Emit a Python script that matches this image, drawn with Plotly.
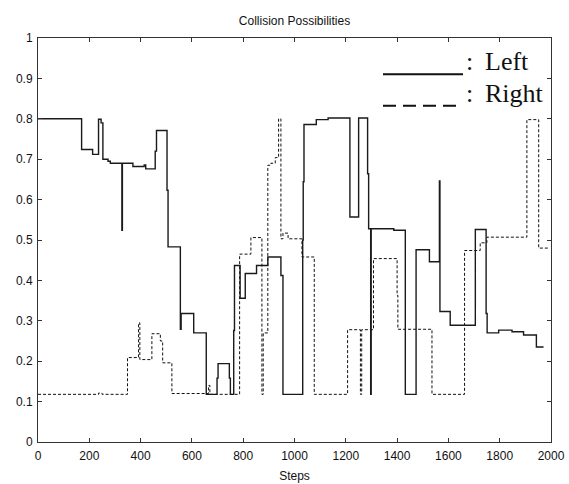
import plotly.graph_objects as go

# Step-change points (hv steps)
left_x = [0, 170, 213, 236, 246, 253, 273, 282, 327, 329, 370, 414, 420, 457, 462,
          503, 507, 555, 558, 607, 656, 698, 702, 746, 750, 763, 766, 788, 808, 852,
          896, 947, 955, 1032, 1034, 1037, 1085, 1131, 1216, 1250, 1285, 1289, 1297,
          1299, 1387, 1432, 1474, 1526, 1565, 1567, 1607, 1705, 1747, 1751, 1796,
          1848, 1893, 1943, 1971]
left_y = [0.80, 0.724, 0.712, 0.799, 0.79, 0.70, 0.695, 0.69, 0.524, 0.69, 0.682, 0.686,
          0.676, 0.72, 0.771, 0.623, 0.483, 0.279, 0.318, 0.27, 0.118, 0.158, 0.194,
          0.158, 0.118, 0.276, 0.437, 0.356, 0.417, 0.437, 0.458, 0.412, 0.118, 0.50,
          0.644, 0.786, 0.798, 0.802, 0.557, 0.802, 0.664, 0.528, 0.118, 0.528, 0.524,
          0.118, 0.476, 0.446, 0.646, 0.323, 0.289, 0.526, 0.318, 0.27, 0.277, 0.273,
          0.265, 0.235, 0.235]

right_x = [0, 236, 250, 349, 392, 397, 444, 477, 486, 522, 665, 670, 786, 830, 873,
           878, 896, 908, 925, 938, 947, 955, 975, 1029, 1077, 1207, 1257, 1262, 1308,
           1400, 1403, 1536, 1663, 1724, 1750, 1906, 1952, 1995]
right_y = [0.118, 0.121, 0.118, 0.209, 0.295, 0.204, 0.268, 0.25, 0.196, 0.12, 0.14,
           0.118, 0.465, 0.506, 0.118, 0.27, 0.685, 0.69, 0.704, 0.80, 0.503, 0.517,
           0.503, 0.458, 0.118, 0.278, 0.118, 0.278, 0.454, 0.363, 0.279, 0.118, 0.474,
           0.493, 0.507, 0.798, 0.48, 0.48]

x_ticks = list(range(0, 2001, 200))
y_ticks = [round(i * 0.1, 1) for i in range(11)]
y_tick_text = ["0", "0.1", "0.2", "0.3", "0.4", "0.5", "0.6", "0.7", "0.8", "0.9", "1"]

sans = dict(family="Liberation Sans, Arial", size=12, color="#111111")

fig = go.Figure()
fig.add_trace(go.Scatter(x=right_x, y=right_y, mode="lines", line_shape="hv",
                         line=dict(color="#111111", width=1, dash="3px,2px"),
                         name="Right", showlegend=False))
fig.add_trace(go.Scatter(x=left_x, y=left_y, mode="lines", line_shape="hv",
                         line=dict(color="#1a1a1a", width=1.4),
                         name="Left", showlegend=False))

axis_common = dict(showline=True, mirror="ticks", linecolor="#333333", linewidth=1,
                   ticks="inside", ticklen=4, tickcolor="#333333", tickwidth=1,
                   showgrid=False, zeroline=False, automargin=False,
                   tickfont=sans)

fig.update_layout(
    template="none",
    width=569, height=484,
    margin=dict(l=38, r=18, t=38, b=42, pad=0),
    plot_bgcolor="white", paper_bgcolor="white",
    title=dict(text="Collision Possibilities", x=0.5, xanchor="center", xref="paper",
               yref="container", y=1 - 21 / 484, yanchor="middle", font=sans),
    xaxis=dict(range=[0, 2000], tickvals=x_ticks, ticklabelstandoff=3,
               title=dict(text="Steps", standoff=9, font=sans),
               **axis_common),
    yaxis=dict(range=[0, 1], tickvals=y_ticks, ticktext=y_tick_text,
               ticklabelstandoff=2, **axis_common),
    font=sans,
    showlegend=False,
)

# Hand-drawn style legend inside the plot
leg_solid_y = (442 - 74.3) / 404
leg_dash_y = (442 - 105.7) / 404
fig.add_shape(type="line", xref="paper", yref="paper",
              x0=(383 - 38) / 513, x1=(463 - 38) / 513, y0=leg_solid_y, y1=leg_solid_y,
              line=dict(color="#111111", width=2))
fig.add_shape(type="line", xref="paper", yref="paper",
              x0=(383 - 38) / 513, x1=(458 - 38) / 513, y0=leg_dash_y, y1=leg_dash_y,
              line=dict(color="#111111", width=2, dash="13px,7px"))

serif = dict(family="Liberation Serif, Times New Roman", size=26, color="#111111")
for label, py in [("Left", 61), ("Right", 93)]:
    fig.add_annotation(xref="paper", yref="paper", x=(465 - 38) / 513, y=(442 - py) / 404,
                       text=":", showarrow=False, xanchor="left", yanchor="middle",
                       font=serif, borderpad=0)
    fig.add_annotation(xref="paper", yref="paper", x=(484 - 38) / 513, y=(442 - py) / 404,
                       text=label, showarrow=False, xanchor="left", yanchor="middle",
                       font=serif, borderpad=0)

fig.write_html(
    "out.html",
    config={"displayModeBar": False, "staticPlot": True},
    post_script="document.body.style.margin='0';document.body.style.overflow='hidden';",
)
